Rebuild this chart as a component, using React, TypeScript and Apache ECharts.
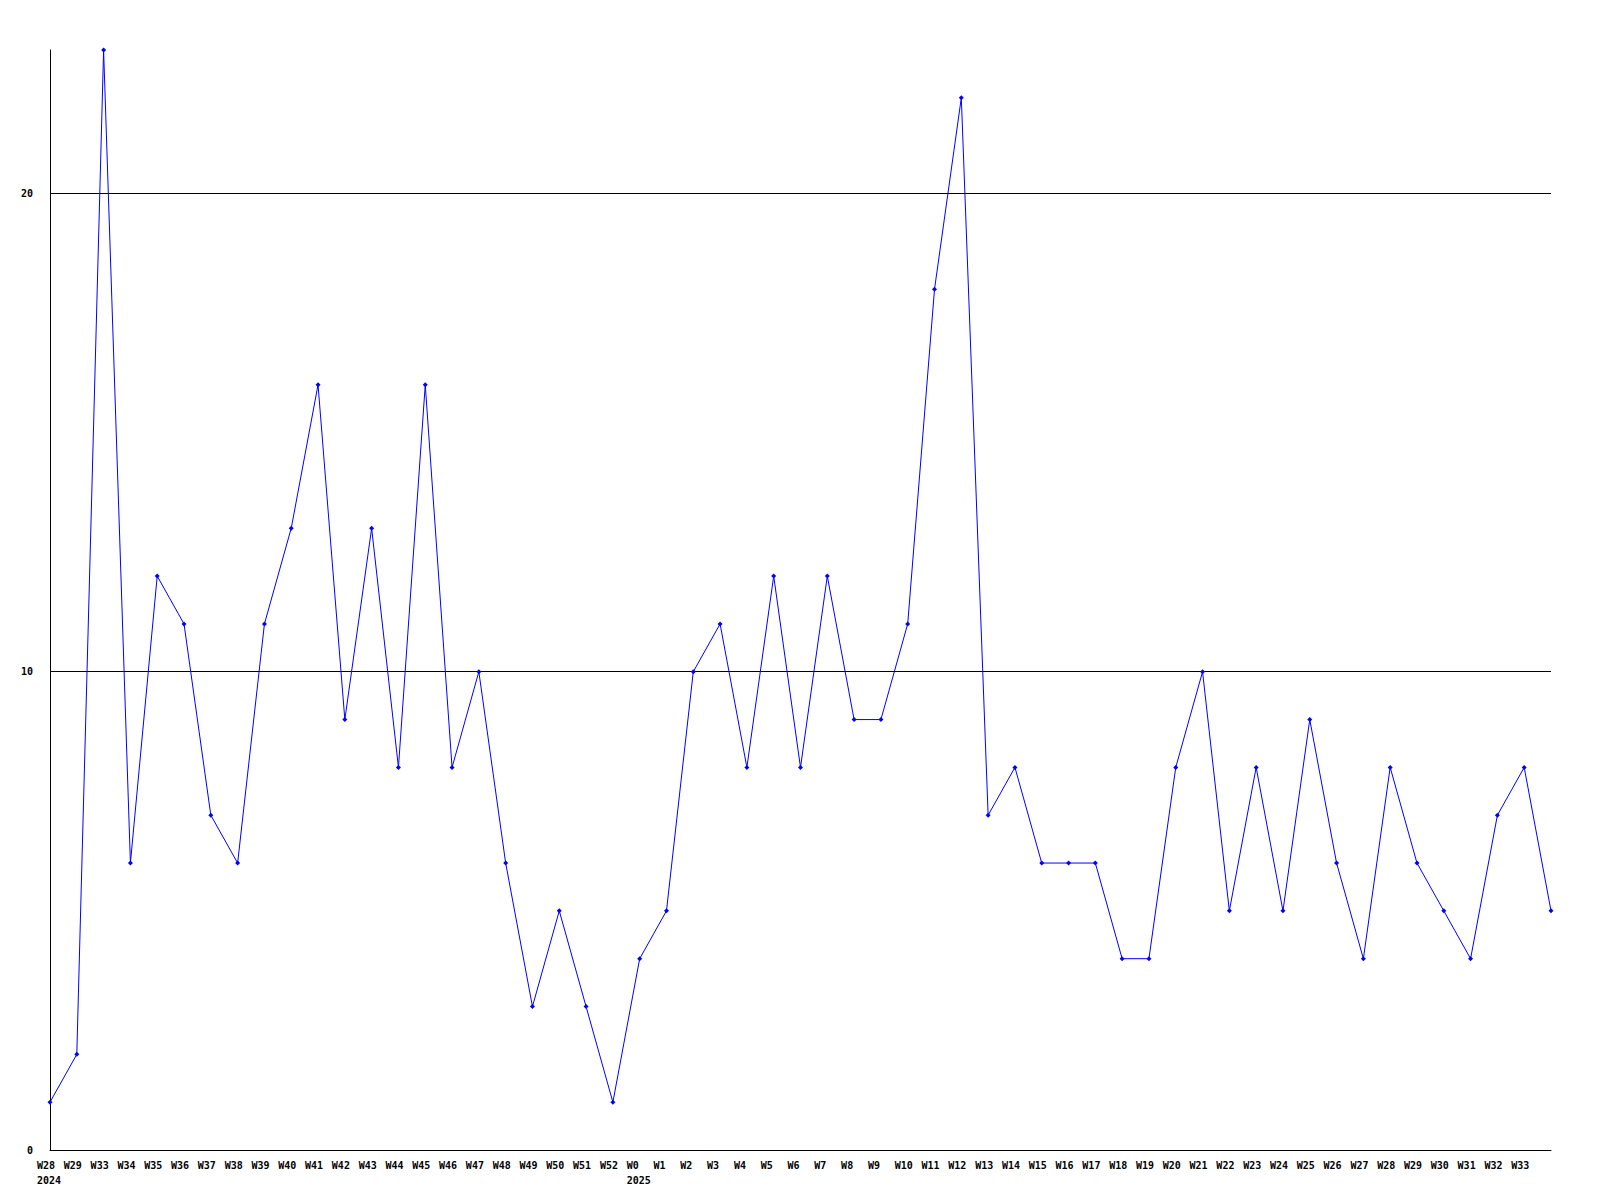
import React, { useEffect, useRef } from "react";
import * as echarts from "echarts";

const weeks = [
  "W28", "W29", "W33", "W34", "W35", "W36", "W37", "W38", "W39", "W40", "W41",
  "W42", "W43", "W44", "W45", "W46", "W47", "W48", "W49", "W50", "W51", "W52",
  "W0", "W1", "W2", "W3", "W4", "W5", "W6", "W7", "W8", "W9", "W10", "W11",
  "W12", "W13", "W14", "W15", "W16", "W17", "W18", "W19", "W20", "W21", "W22",
  "W23", "W24", "W25", "W26", "W27", "W28", "W29", "W30", "W31", "W32", "W33", "",
];
const yearLabels: Record<number, string> = { 0: "2024", 22: "2025" };
const values = [
  1, 2, 23, 6, 12, 11, 7, 6, 11, 13, 16,
  9, 13, 8, 16, 8, 10, 6, 3, 5, 3, 1,
  4, 5, 10, 11, 8, 12, 8, 12, 9, 9, 11, 18,
  22, 7, 8, 6, 6, 6, 4, 4, 8, 10, 5,
  8, 5, 9, 6, 4, 8, 6, 5, 4, 7, 8, 5,
];
const yTicks = { min: 0, max: 23, interval: 10 };

const FONT = "DejaVu Sans Mono";

export default function App() {
  const ref = useRef<HTMLDivElement>(null);
  useEffect(() => {
    document.body.style.margin = "0";
    const chart = echarts.init(ref.current!, null, { renderer: "svg" });
    const cats = weeks.map((w, i) => (yearLabels[i] ? `${w}\n${yearLabels[i]}` : w));
    chart.setOption({
      animation: false,
      backgroundColor: "#ffffff",
      grid: { left: 50, right: 49, top: 50, bottom: 50, containLabel: false },
      xAxis: {
        type: "category",
        data: cats,
        boundaryGap: false,
        axisLine: { show: true, lineStyle: { color: "#000", width: 1 } },
        axisTick: { show: false },
        splitLine: { show: false },
        axisLabel: {
          interval: 0,
          margin: 8,
          formatter: (v: string) =>
            v
              .split("\n")
              .map((s) => (s ? `{a|${s}}` : ""))
              .join("\n"),
          rich: {
            a: {
              width: 26,
              align: "left",
              fontFamily: FONT,
              fontSize: 10,
              fontWeight: "bold",
              color: "#000",
              lineHeight: 15,
            },
          },
        },
      },
      yAxis: {
        type: "value",
        min: yTicks.min,
        max: yTicks.max,
        interval: yTicks.interval,
        axisLine: { show: true, lineStyle: { color: "#000", width: 1 } },
        axisTick: { show: false },
        splitLine: {
          show: true,
          lineStyle: { color: ["transparent", "#000", "#000", "transparent"], width: 1 },
        },
        axisLabel: {
          showMaxLabel: false,
          margin: 17,
          fontFamily: FONT,
          fontSize: 10,
          fontWeight: "bold",
          color: "#000",
        },
      },
      series: [
        {
          type: "line",
          data: values,
          symbol: "diamond",
          symbolSize: 5,
          showAllSymbol: true,
          lineStyle: { color: "#0000ff", width: 1 },
          itemStyle: { color: "#0000ff" },
        },
      ],
    });
    return () => chart.dispose();
  }, []);
  return <div ref={ref} style={{ width: 1600, height: 1200 }} />;
}
